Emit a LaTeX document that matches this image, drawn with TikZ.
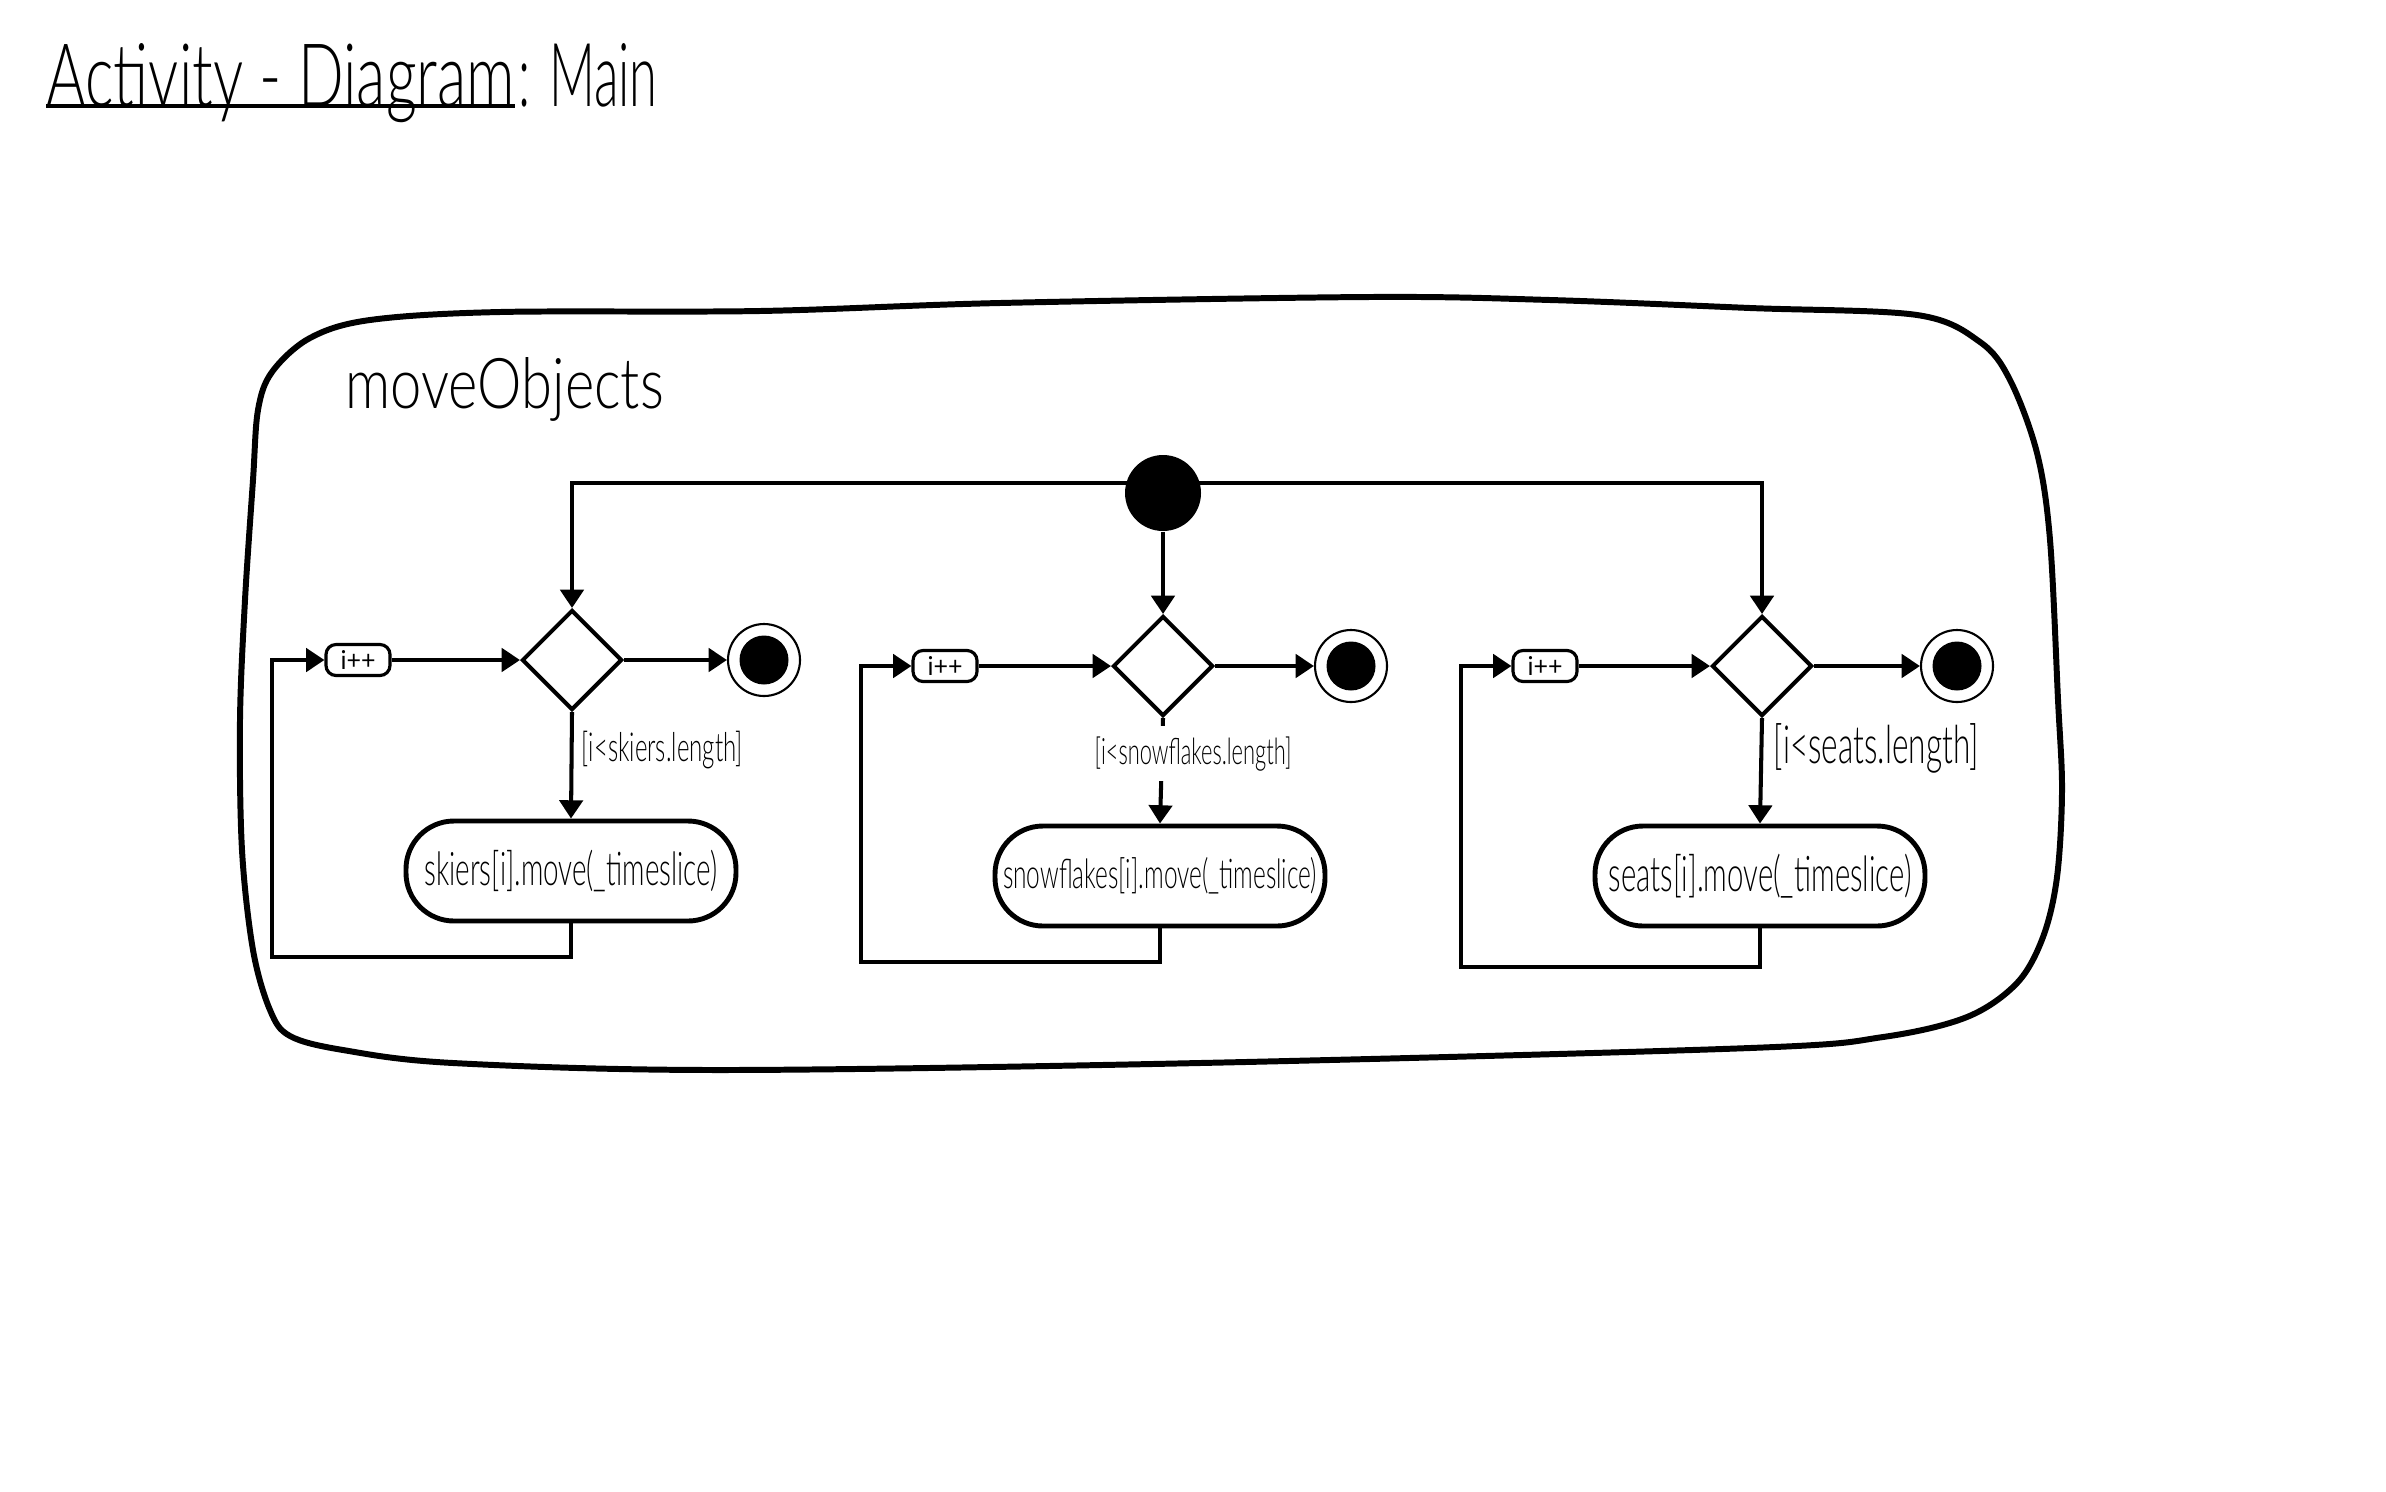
\documentclass[tikz,border=0pt]{standalone}
\usepackage{fontspec}
\setmainfont{Lato}
\newfontfamily\handR[FakeStretch=0.6]{Lato}
\newfontfamily\handL[FakeStretch=0.6]{Lato Light}
\usetikzlibrary{shapes.geometric,arrows.meta}
\newcommand{\fitw}[2]{\resizebox{#1}{!}{#2}}
\newcommand{\fitwh}[3]{\resizebox{#1}{#2}{#3}}

\begin{document}
\begin{tikzpicture}[x=0.1mm,y=-0.1mm,
  flow/.style={line width=1.15pt, -{Triangle[length=5.2pt,width=6.6pt]}},
  decision/.style={diamond, draw, line width=1.15pt, minimum width=10mm,
    minimum height=10mm, inner sep=0pt, aspect=1},
  initial/.style={circle, fill=black, minimum size=7.6mm, inner sep=0pt},
  final/.style={circle, draw, line width=0.6pt, minimum size=7.2mm, inner sep=0pt,
    path picture={\fill[black] (path picture bounding box.center) circle (2.45mm);}},
  counter/.style={draw, line width=0.9pt, rounded corners=1mm, minimum width=6.4mm,
    minimum height=3.1mm, inner sep=0pt, fill=white},
  action/.style={draw, line width=1.4pt, rounded corners=4.8mm, minimum width=33mm,
    minimum height=10mm, inner sep=0pt, fill=white},
  guard/.style={inner sep=0pt},
  guardgap/.style={inner xsep=0.5mm, inner ysep=1mm, fill=white},
]
\useasboundingbox (0,0) rectangle (2386,1491);

% title
\node[anchor=base west, inner sep=0pt] (titleA) at (46,106)
  {\handL\fitwh{46.8mm}{6.3mm}{Activity - Diagram}};
\node[anchor=base west, inner sep=0pt] (titleB) at (518,106)
  {\handL\fitwh{13.9mm}{6.3mm}{: Main}};
\draw[line width=1.2pt] (titleA.base west) -- (titleA.base east);

% hand-drawn frame of the activity
\draw[line width=1.7pt] plot[smooth cycle, tension=0.55] coordinates {
  (245,600) (253,480) (258,410) (272,372) (310,338) (370,320) (500,312)
  (760,311) (1000,303) (1370,297) (1550,300) (1750,308) (1917,315)
  (1980,342) (2010,380) (2037,453) (2050,540) (2058,700) (2062,790)
  (2057,877) (2043,937) (2017,983) (1967,1017) (1883,1037) (1750,1048)
  (1200,1063) (720,1070) (453,1063) (343,1050) (290,1036) (270,1010)
  (253,950) (242,850) (240,720)};
\node[anchor=base west, inner sep=0pt] (frameName) at (345,408)
  {\handL\fitwh{31.8mm}{5.1mm}{moveObjects}};

% nodes
\node[initial] (start) at (1163,493) {};
\node[decision] (d1) at (572,660) {};
\node[decision] (d2) at (1163,666) {};
\node[decision] (d3) at (1762,666) {};
\node[final] (f1) at (764,660) {};
\node[final] (f2) at (1351,666) {};
\node[final] (f3) at (1957,666) {};
\node[counter] (c1) at (358,660) {\handR\fitwh{3.5mm}{1.9mm}{i++}};
\node[counter] (c2) at (945,666) {\handR\fitwh{3.5mm}{1.9mm}{i++}};
\node[counter] (c3) at (1545,666) {\handR\fitwh{3.5mm}{1.9mm}{i++}};
\node[action] (a1) at (571,871) {\handL\fitw{29.3mm}{skiers[i].move(\_timeslice)}};
\node[action] (a2) at (1160,876) {\handL\fitw{31.4mm}{snowflakes[i].move(\_timeslice)}};
\node[action] (a3) at (1760,876) {\handL\fitw{30.3mm}{seats[i].move(\_timeslice)}};

% bends of the fork and the loops
\coordinate (forkL) at (572,483);
\coordinate (forkR) at (1762,483);
\coordinate (loop1) at (272,957);
\coordinate (loop2) at (861,962);
\coordinate (loop3) at (1461,967);

% fork from the initial node
\draw[flow] (start.center |- forkL) -- (forkL) -- (d1.north);
\draw[flow] (start.center |- forkR) -- (forkR) -- (d3.north);
\draw[flow] (start) -- (d2.north);

% skiers loop
\draw[flow] (d1.east) -- (f1);
\draw[flow] (c1) -- (d1.west);
\draw[flow] (d1.south) -- (a1.north);
\draw[flow] (a1.south) |- (loop1) |- (c1.west);

% snowflakes loop
\draw[flow] (d2.east) -- (f2);
\draw[flow] (c2) -- (d2.west);
\draw[flow] (d2.south) -- (a2.north);
\draw[flow] (a2.south) |- (loop2) |- (c2.west);

% seats loop
\draw[flow] (d3.east) -- (f3);
\draw[flow] (c3) -- (d3.west);
\draw[flow] (d3.south) -- (a3.north);
\draw[flow] (a3.south) |- (loop3) |- (c3.west);

% guards
\node[guard, anchor=base west] (g1) at (581,761)
  {\handL\fitw{16.1mm}{[i<skiers.length]}};
\node[guardgap, anchor=base] (g2) at (1193,764)
  {\handL\fitw{19.7mm}{[i<snowflakes.length]}};
\node[guard, anchor=base west] (g3) at (1773,763)
  {\handL\fitw{20.5mm}{[i<seats.length]}};
\end{tikzpicture}
\end{document}
